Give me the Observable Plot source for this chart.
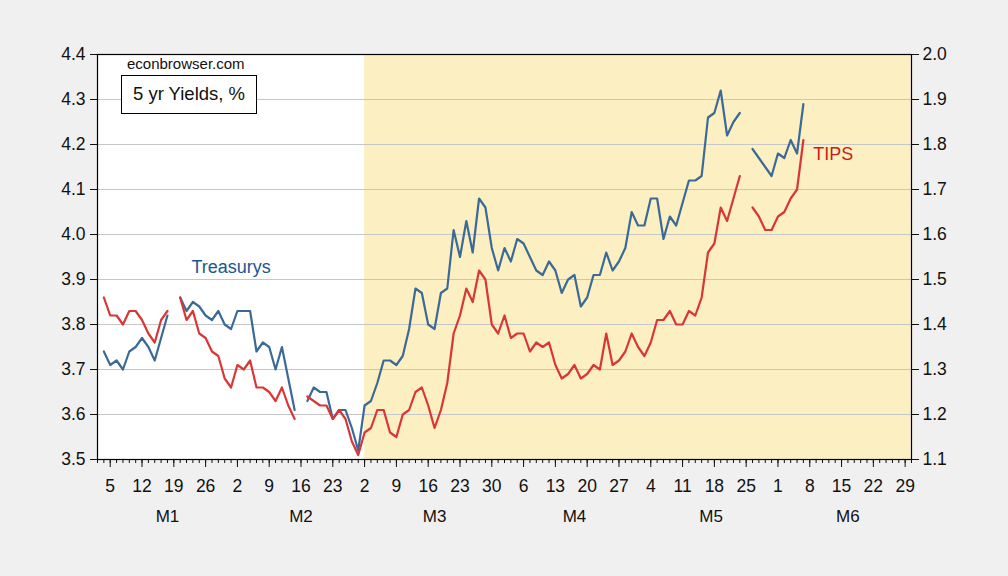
<!DOCTYPE html>
<html>
<head>
<meta charset="utf-8">
<script src="https://cdn.jsdelivr.net/npm/d3@7"></script>
<script src="https://cdn.jsdelivr.net/npm/@observablehq/plot@0.6"></script>
<style>
  html, body { margin: 0; padding: 0; background: #f0f0f0; }
  #chart { position: relative; width: 1008px; height: 576px; font-family: "Liberation Sans", Arial, sans-serif; }
  #chart svg { position: absolute; left: 0; top: 0; }
  .src { position: absolute; left: 127px; top: 55px; font-size: 15px; line-height: 18px; color: #111; }
  .ttl { position: absolute; left: 121px; top: 75px; width: 136px; height: 39px; box-sizing: border-box;
         border: 1.3px solid #000; background: #fff; font-size: 18.5px; line-height: 36px;
         text-align: center; color: #111; }
</style>
</head>
<body>
<div id="chart">
  <div class="src">econbrowser.com</div>
  <div class="ttl">5 yr Yields, %</div>
</div>
<script>
// Daily (business-day) 5-year yields, from the first trading day of the year.
const startDate = "2026-01-02";
const endDate = "2026-06-30";      // end of the x axis
const shadeFrom = "2026-03-02";    // start of the shaded period

// 5-year Treasury yield, % (left axis); null = market holiday
const treasury5y = [
  3.74, 3.71, 3.72, 3.70, 3.74, 3.75, 3.77, 3.75, 3.72, 3.77, 3.82, null,
  3.86, 3.83, 3.85, 3.84, 3.82, 3.81, 3.83, 3.80, 3.79, 3.83, 3.83, 3.83,
  3.74, 3.76, 3.75, 3.70, 3.75, 3.68, 3.61, null, 3.63, 3.66, 3.65, 3.65,
  3.59, 3.61, 3.61, 3.57, 3.52, 3.62, 3.63, 3.67, 3.72, 3.72, 3.71, 3.73,
  3.79, 3.88, 3.87, 3.80, 3.79, 3.87, 3.88, 4.01, 3.95, 4.03, 3.96, 4.08,
  4.06, 3.97, 3.92, 3.97, 3.94, 3.99, 3.98, 3.95, 3.92, 3.91, 3.94, 3.92,
  3.87, 3.90, 3.91, 3.84, 3.86, 3.91, 3.91, 3.96, 3.92, 3.94, 3.97, 4.05,
  4.02, 4.02, 4.08, 4.08, 3.99, 4.04, 4.02, 4.07, 4.12, 4.12, 4.13, 4.26,
  4.27, 4.32, 4.22, 4.25, 4.27, null, 4.19, 4.17, 4.15, 4.13, 4.18, 4.17,
  4.21, 4.18, 4.29
];

// 5-year TIPS yield, % (right axis)
const tips5y = [
  1.46, 1.42, 1.42, 1.40, 1.43, 1.43, 1.41, 1.38, 1.36, 1.41, 1.43, null,
  1.46, 1.41, 1.43, 1.38, 1.37, 1.34, 1.33, 1.28, 1.26, 1.31, 1.30, 1.32,
  1.26, 1.26, 1.25, 1.23, 1.26, 1.22, 1.19, null, 1.24, 1.23, 1.22, 1.22,
  1.19, 1.21, 1.19, 1.14, 1.11, 1.16, 1.17, 1.21, 1.21, 1.16, 1.15, 1.20,
  1.21, 1.25, 1.26, 1.22, 1.17, 1.21, 1.27, 1.38, 1.42, 1.48, 1.45, 1.52,
  1.50, 1.40, 1.38, 1.42, 1.37, 1.38, 1.38, 1.34, 1.36, 1.35, 1.36, 1.31,
  1.28, 1.29, 1.31, 1.28, 1.29, 1.31, 1.30, 1.38, 1.31, 1.32, 1.34, 1.38,
  1.35, 1.33, 1.36, 1.41, 1.41, 1.43, 1.40, 1.40, 1.43, 1.42, 1.46, 1.56,
  1.58, 1.66, 1.63, 1.68, 1.73, null, 1.66, 1.64, 1.61, 1.61, 1.64, 1.65,
  1.68, 1.70, 1.81
];

const monthLabels = ["M1", "M2", "M3", "M4", "M5", "M6"];
const leftTicks = [3.5, 3.6, 3.7, 3.8, 3.9, 4.0, 4.1, 4.2, 4.3, 4.4];
const rightTicks = [1.1, 1.2, 1.3, 1.4, 1.5, 1.6, 1.7, 1.8, 1.9, 2.0];
const tipsOffset = leftTicks[0] - rightTicks[0]; // right axis 1.1 sits level with left axis 3.5

const seriesNames = { ust: "Treasurys", tips: "TIPS" };
const colors = { ust: "#3b6a96", tips: "#d93636", ustText: "#1d5592", tipsText: "#cc1b1b",
                 shade: "#fcf0c2", grid: "#c6c6c6" };

// Five-day calendar: every weekday from Jan 1 to the end of the axis
const days = d3.utcDay.range(new Date("2026-01-01"), d3.utcDay.offset(new Date(endDate), 1))
  .filter(d => d.getUTCDay() % 6 !== 0);
const idxOf = s => days.findIndex(d => +d === +new Date(s));
const start = idxOf(startDate);
const lastIdx = days.length - 1;

const rows = treasury5y.map((v, k) => ({ i: start + k, ust: v, tips: tips5y[k] }));

const allIdx = days.map((d, i) => i);
const mondayIdx = allIdx.filter(i => days[i].getUTCDay() === 1);

const months = monthLabels.map((label, m) => {
  const first = allIdx.find(i => days[i].getUTCMonth() === m);
  const next = allIdx.find(i => days[i].getUTCMonth() === m + 1);
  return { label, center: (first + (next ?? lastIdx + 1)) / 2 };
});

const labels = [
  { text: seriesNames.ust, i: 21, v: 3.927, color: colors.ustText },
  { text: seriesNames.tips, i: 115.7, v: 1.778 + tipsOffset, color: colors.tipsText }
];

const fmt = d3.format(".1f");

const chart = Plot.plot({
  width: 1008,
  height: 576,
  marginLeft: 97,
  marginRight: 97,
  marginTop: 54,
  marginBottom: 117,
  x: { type: "linear", domain: [0, lastIdx] },
  y: { domain: [leftTicks[0], leftTicks[leftTicks.length - 1]] },
  style: { background: "transparent", fontFamily: "'Liberation Sans', Arial, sans-serif",
           fontSize: "17.5px", color: "#111" },
  marks: [
    Plot.frame({ fill: "#ffffff", stroke: null }),
    Plot.rect([idxOf(shadeFrom)], { x1: d => d, x2: () => lastIdx, fill: colors.shade }),
    Plot.gridY(leftTicks.slice(1, -1), { stroke: colors.grid, strokeOpacity: 1, strokeWidth: 1 }),
    Plot.line(rows, { x: "i", y: d => d.ust == null ? NaN : d.ust,
                      stroke: colors.ust, strokeWidth: 2.2 }),
    Plot.line(rows, { x: "i", y: d => d.tips == null ? NaN : d.tips + tipsOffset,
                      stroke: colors.tips, strokeWidth: 2.2 }),
    Plot.text(labels, { x: "i", y: "v", text: "text", fill: "color", fontSize: 18 }),
    Plot.axisY(leftTicks, { anchor: "left", tickFormat: fmt, tickSize: 7, tickPadding: 5, label: null }),
    Plot.axisY(leftTicks, { anchor: "right", tickFormat: d => fmt(d - tipsOffset),
                            tickSize: 7, tickPadding: 4, label: null }),
    Plot.axisX(allIdx, { tickSize: 4, tickFormat: () => "", label: null }),
    Plot.axisX(mondayIdx, { tickSize: 8, tickPadding: 12, tickFormat: i => days[i].getUTCDate(), label: null }),
    Plot.text(months, { x: "center", text: "label", frameAnchor: "bottom", dy: 62, fontSize: 17 }),
    Plot.frame({ stroke: "#000", strokeWidth: 1.2 })
  ]
});

document.getElementById("chart").prepend(chart);
</script>
</body>
</html>
